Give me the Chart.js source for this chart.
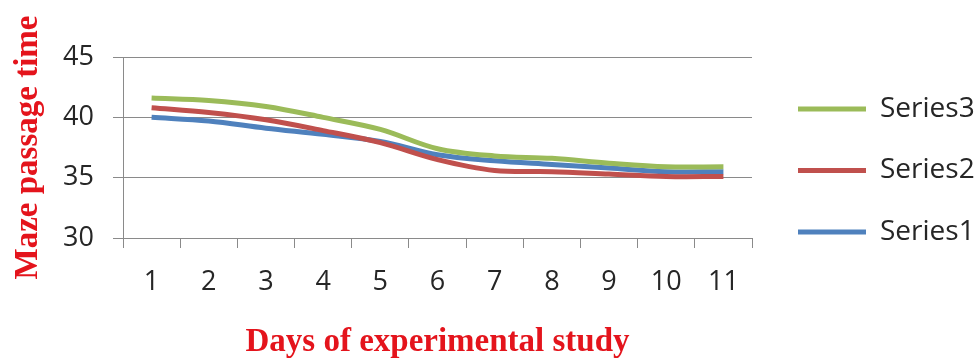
<!DOCTYPE html>
<html>
<head>
<meta charset="utf-8">
<script src="https://cdn.jsdelivr.net/npm/chart.js@4.4.1/dist/chart.umd.min.js"></script>
<style>
  html, body { margin: 0; padding: 0; background: #ffffff; }
  #c { display: block; }
</style>
</head>
<body>
<canvas id="c" width="978" height="358"></canvas>
<script>
// ---- data ----
const dayLabels = ['1', '2', '3', '4', '5', '6', '7', '8', '9', '10', '11'];
const series1 = [40.0, 39.7, 39.1, 38.6, 38.0, 36.9, 36.4, 36.1, 35.8, 35.5, 35.5];
const series2 = [40.8, 40.4, 39.8, 38.9, 37.9, 36.5, 35.6, 35.5, 35.3, 35.1, 35.1];
const series3 = [41.6, 41.4, 40.9, 40.0, 39.0, 37.4, 36.8, 36.6, 36.2, 35.9, 35.9];
const yTickValues = [30, 35, 40, 45];
const seriesNames = ['Series1', 'Series2', 'Series3'];
const yTitle = 'Maze passage time';
const xTitle = 'Days of experimental study';

// ---- styling / layout ----
const colors = ['#4f81bd', '#c0504d', '#9bbb59'];
const gridColor = '#8a8a8a';
const textColor = '#262626';
const titleRed = '#e4141c';
const tickFont = { family: "'Open Sans'", size: 27 };
const titleFont = { family: "'Liberation Serif'", size: 33, weight: 'bold' };

const PLOT_LEFT = 123, PLOT_RIGHT = 752, PLOT_TOP = 57, PLOT_BOTTOM = 238;
const LEG_FONT = 28, LEG_PAD = 33.5, BOX_W = 68, LEG_BOX_X = 798;
const PAD_BOTTOM = 17;

const mctx = document.createElement('canvas').getContext('2d');
mctx.font = LEG_FONT + "px 'Open Sans'";
const textW = Math.max(...seriesNames.map(s => mctx.measureText(s).width));
const legendW = LEG_PAD + BOX_W + LEG_FONT / 2 + textW + 10;
const legendLeft = LEG_BOX_X - LEG_PAD;
const padRight = 978 - legendLeft - legendW;
const gapRight = legendLeft - PLOT_RIGHT;

const seriesData = [series1, series2, series3];
const datasets = seriesNames.map((name, i) => ({
  label: name,
  data: seriesData[i],
  borderColor: colors[i],
  backgroundColor: colors[i],
  borderWidth: 5,
  pointRadius: 0,
  pointHoverRadius: 0,
  tension: 0.35,
  fill: false,
  order: 3 - i
}));

new Chart(document.getElementById('c'), {
  type: 'line',
  data: { labels: dayLabels, datasets },
  options: {
    responsive: false,
    animation: false,
    devicePixelRatio: 1,
    layout: { padding: { top: 0, right: padRight, bottom: PAD_BOTTOM, left: 0 } },
    plugins: {
      tooltip: { enabled: false },
      legend: {
        position: 'right',
        align: 'center',
        labels: {
          font: { family: "'Open Sans'", size: LEG_FONT },
          color: textColor,
          boxWidth: BOX_W,
          boxHeight: 5,
          padding: LEG_PAD,
          generateLabels(chart) {
            const items = Chart.defaults.plugins.legend.labels.generateLabels(chart);
            return items.map(it => Object.assign(it, { lineWidth: 0, fillStyle: it.strokeStyle }));
          }
        }
      }
    },
    scales: {
      x: {
        type: 'category',
        offset: true,
        grid: { offset: true, drawOnChartArea: false, drawTicks: true, tickLength: 10, color: gridColor, lineWidth: 1 },
        border: { color: gridColor, width: 1 },
        ticks: { font: tickFont, color: textColor, padding: 18, maxRotation: 0, autoSkip: false },
        title: { display: true, text: xTitle, color: titleRed, font: titleFont, padding: { top: 24, bottom: -21 } },
        afterFit: s => { s.height = 341 - PLOT_BOTTOM; }
      },
      y: {
        min: 30,
        max: 45,
        grid: { color: gridColor, lineWidth: 1, drawTicks: true, tickLength: 10 },
        border: { color: gridColor, width: 1 },
        ticks: { font: tickFont, color: textColor, padding: 19 },
        afterBuildTicks: s => { s.ticks = yTickValues.map(v => ({ value: v })); },
        title: { display: true, text: yTitle, color: titleRed, font: titleFont, padding: { top: 9, bottom: 0 } },
        afterFit: s => { s.width = PLOT_LEFT; }
      },
      xTop: {
        type: 'linear',
        position: 'top',
        display: false,
        afterFit: s => { s.height = PLOT_TOP; }
      },
      yRight: {
        type: 'linear',
        position: 'right',
        display: false,
        afterFit: s => { s.width = gapRight; }
      }
    }
  }
});
</script>
</body>
</html>
